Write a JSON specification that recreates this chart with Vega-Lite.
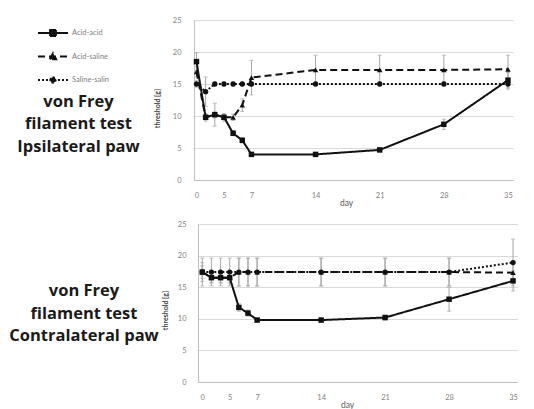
{
  "$schema": "https://vega.github.io/schema/vega-lite/v6.json",
  "background": "white",
  "padding": {"left": 0, "top": 16, "right": 0, "bottom": 0},
  "config": {"view": {"stroke": null}, "font": "Lato"},
  "spacing": 13,
  "datasets": {
    "curves": [
      {"panel": "top", "s": "Acid-acid", "t": 0, "v": 18.5, "e": 1.4},
      {"panel": "top", "s": "Acid-acid", "t": 1, "v": 9.8, "e": 0.4},
      {"panel": "top", "s": "Acid-acid", "t": 2, "v": 10.2, "e": 0.5},
      {"panel": "top", "s": "Acid-acid", "t": 3, "v": 9.8, "e": 0.4},
      {"panel": "top", "s": "Acid-acid", "t": 4, "v": 7.3, "e": 0.4},
      {"panel": "top", "s": "Acid-acid", "t": 5, "v": 6.2, "e": 0.4},
      {"panel": "top", "s": "Acid-acid", "t": 6, "v": 4.0, "e": 0.3},
      {"panel": "top", "s": "Acid-acid", "t": 13, "v": 4.0, "e": 0.3},
      {"panel": "top", "s": "Acid-acid", "t": 20, "v": 4.7, "e": 0.3},
      {"panel": "top", "s": "Acid-acid", "t": 27, "v": 8.7, "e": 0.8},
      {"panel": "top", "s": "Acid-acid", "t": 34, "v": 15.6, "e": 1.2},
      {"panel": "top", "s": "Acid-saline", "t": 0, "v": 16.9, "e": 0.8},
      {"panel": "top", "s": "Acid-saline", "t": 1, "v": 9.8, "e": 0.6},
      {"panel": "top", "s": "Acid-saline", "t": 2, "v": 10.2, "e": 1.8},
      {"panel": "top", "s": "Acid-saline", "t": 3, "v": 9.8, "e": 0.6},
      {"panel": "top", "s": "Acid-saline", "t": 4, "v": 9.8, "e": 0.5},
      {"panel": "top", "s": "Acid-saline", "t": 5, "v": 11.7, "e": 1.0},
      {"panel": "top", "s": "Acid-saline", "t": 6, "v": 16.0, "e": 2.7},
      {"panel": "top", "s": "Acid-saline", "t": 13, "v": 17.2, "e": 2.3},
      {"panel": "top", "s": "Acid-saline", "t": 20, "v": 17.2, "e": 2.3},
      {"panel": "top", "s": "Acid-saline", "t": 27, "v": 17.2, "e": 2.3},
      {"panel": "top", "s": "Acid-saline", "t": 34, "v": 17.3, "e": 2.2},
      {"panel": "top", "s": "Saline-salin", "t": 0, "v": 15.0, "e": 0.5},
      {"panel": "top", "s": "Saline-salin", "t": 1, "v": 13.8, "e": 2.3},
      {"panel": "top", "s": "Saline-salin", "t": 2, "v": 15.0, "e": 0.3},
      {"panel": "top", "s": "Saline-salin", "t": 3, "v": 15.0, "e": 0.3},
      {"panel": "top", "s": "Saline-salin", "t": 4, "v": 15.0, "e": 0.3},
      {"panel": "top", "s": "Saline-salin", "t": 5, "v": 15.0, "e": 0.3},
      {"panel": "top", "s": "Saline-salin", "t": 6, "v": 15.0, "e": 0.3},
      {"panel": "top", "s": "Saline-salin", "t": 13, "v": 15.0, "e": 0.3},
      {"panel": "top", "s": "Saline-salin", "t": 20, "v": 15.0, "e": 0.3},
      {"panel": "top", "s": "Saline-salin", "t": 27, "v": 15.0, "e": 0.3},
      {"panel": "top", "s": "Saline-salin", "t": 34, "v": 15.0, "e": 0.8},
      {"panel": "bot", "s": "Acid-acid", "t": 0, "v": 17.4, "e": 1.0},
      {"panel": "bot", "s": "Acid-acid", "t": 1, "v": 16.5, "e": 0.8},
      {"panel": "bot", "s": "Acid-acid", "t": 2, "v": 16.5, "e": 0.8},
      {"panel": "bot", "s": "Acid-acid", "t": 3, "v": 16.5, "e": 0.8},
      {"panel": "bot", "s": "Acid-acid", "t": 4, "v": 11.8, "e": 0.6},
      {"panel": "bot", "s": "Acid-acid", "t": 5, "v": 10.9, "e": 0.5},
      {"panel": "bot", "s": "Acid-acid", "t": 6, "v": 9.8, "e": 0.3},
      {"panel": "bot", "s": "Acid-acid", "t": 13, "v": 9.8, "e": 0.3},
      {"panel": "bot", "s": "Acid-acid", "t": 20, "v": 10.2, "e": 0.4},
      {"panel": "bot", "s": "Acid-acid", "t": 27, "v": 13.1, "e": 1.9},
      {"panel": "bot", "s": "Acid-acid", "t": 34, "v": 16.0, "e": 1.6},
      {"panel": "bot", "s": "Acid-saline", "t": 0, "v": 17.4, "e": 1.5},
      {"panel": "bot", "s": "Acid-saline", "t": 1, "v": 16.5, "e": 0.8},
      {"panel": "bot", "s": "Acid-saline", "t": 2, "v": 16.5, "e": 0.8},
      {"panel": "bot", "s": "Acid-saline", "t": 3, "v": 16.5, "e": 0.8},
      {"panel": "bot", "s": "Acid-saline", "t": 4, "v": 17.4, "e": 2.2},
      {"panel": "bot", "s": "Acid-saline", "t": 5, "v": 17.4, "e": 2.2},
      {"panel": "bot", "s": "Acid-saline", "t": 6, "v": 17.4, "e": 2.2},
      {"panel": "bot", "s": "Acid-saline", "t": 13, "v": 17.4, "e": 2.2},
      {"panel": "bot", "s": "Acid-saline", "t": 20, "v": 17.4, "e": 2.2},
      {"panel": "bot", "s": "Acid-saline", "t": 27, "v": 17.4, "e": 2.2},
      {"panel": "bot", "s": "Acid-saline", "t": 34, "v": 17.3, "e": 1.5},
      {"panel": "bot", "s": "Saline-salin", "t": 0, "v": 17.4, "e": 2.2},
      {"panel": "bot", "s": "Saline-salin", "t": 1, "v": 17.4, "e": 2.2},
      {"panel": "bot", "s": "Saline-salin", "t": 2, "v": 17.4, "e": 2.2},
      {"panel": "bot", "s": "Saline-salin", "t": 3, "v": 17.4, "e": 2.2},
      {"panel": "bot", "s": "Saline-salin", "t": 4, "v": 17.4, "e": 2.2},
      {"panel": "bot", "s": "Saline-salin", "t": 5, "v": 17.4, "e": 2.2},
      {"panel": "bot", "s": "Saline-salin", "t": 6, "v": 17.4, "e": 2.2},
      {"panel": "bot", "s": "Saline-salin", "t": 13, "v": 17.4, "e": 2.2},
      {"panel": "bot", "s": "Saline-salin", "t": 20, "v": 17.4, "e": 2.2},
      {"panel": "bot", "s": "Saline-salin", "t": 27, "v": 17.4, "e": 2.2},
      {"panel": "bot", "s": "Saline-salin", "t": 34, "v": 18.9, "e": 3.7}
    ],
    "titles": [
      {"panel": "top", "txt": "von Frey\nfilament test\nIpsilateral paw"},
      {"panel": "bot", "txt": "von Frey\nfilament test\nContralateral paw"}
    ]
  },
  "vconcat": [
    {
      "spacing": 0,
      "hconcat": [
        {
          "width": 153, "height": 160,
          "data": {"name": "titles"},
          "transform": [{"filter": "datum.panel == 'top'"}],
          "mark": {"type": "text", "lineBreak": "\n", "lineHeight": 22.5, "font": "Open Sans", "fontWeight": "bold", "fontSize": 16.5, "color": "#1a1a1a", "align": "center", "baseline": "middle", "dx": 2, "dy": 1.7},
          "encoding": {"text": {"field": "txt", "type": "nominal"}}
        },
        {
          "width": 319, "height": 160,
          "data": {"name": "curves"},
          "transform": [{"filter": "datum.panel == 'top'"}],
          "encoding": {
            "x": {"field": "t", "type": "quantitative", "scale": {"domain": [-0.27, 34.55], "nice": false, "zero": false},
              "axis": {"values": [0, 3, 6, 13, 20, 27, 34], "labelExpr": "datum.value == 0 ? '0' : datum.value == 3 ? '5' : datum.value == 6 ? '7' : '' + (datum.value + 1)", "title": "day", "grid": false, "ticks": false, "domainColor": "#bfbfbf", "labelFontSize": 7.5, "labelColor": "#7f7f7f", "labelPadding": 11, "labelFlush": false, "labelOverlap": false, "titleFontSize": 8.5, "titleFontWeight": "normal", "titleColor": "#595959", "titlePadding": 0, "titleX": 152}},
            "y": {"field": "v", "type": "quantitative", "scale": {"domain": [0, 25], "nice": false},
              "axis": {"values": [0, 5, 10, 15, 20, 25], "title": "threshold [g]", "grid": true, "gridColor": "#d9d9d9", "ticks": false, "domainColor": "#bfbfbf", "labelFontSize": 7.5, "labelColor": "#7f7f7f", "labelPadding": 13, "titleFontSize": 7, "titleFontWeight": "bold", "titleColor": "#404040", "titlePadding": 12, "titleY": 88}}
          },
          "layer": [
            {"mark": {"type": "errorbar", "ticks": {"color": "#a6a6a6", "size": 4}, "rule": {"color": "#a6a6a6", "strokeWidth": 1}}, "encoding": {"yError": {"field": "e"}}},
            {"mark": {"type": "line", "color": "#111", "strokeWidth": 2},
              "encoding": {"strokeDash": {"field": "s", "type": "nominal",
                "scale": {"domain": ["Acid-acid", "Acid-saline", "Saline-salin"], "range": [[1, 0], [7, 4], [2, 2]]},
                "legend": {"title": null, "orient": "none", "legendX": 47, "legendY": 7, "padding": 0, "symbolSize": 100, "symbolStrokeWidth": 1.8, "symbolStrokeColor": "#111", "symbolFillColor": "#111", "labelFont": "Lato", "labelFontSize": 7.5, "labelColor": "#7f7f7f", "labelOffset": 13, "rowPadding": 9.5,
                  "encode": {"symbols": {"update": {"fill": {"value": "#111"}, "stroke": {"value": "#111"}, "strokeWidth": {"value": 1.8}, "opacity": {"value": 1}, "shape": {"signal": "datum.value === 'Acid-acid' ? 'M-3,0H3M-0.6,-0.6H0.6V0.6H-0.6Z' : datum.value === 'Acid-saline' ? 'M-3,0H3M-0.66,0.55L0,-0.66L0.66,0.55Z' : 'M-3,0H3M-0.55,0A0.55,0.55,0,1,1,0.55,0A0.55,0.55,0,1,1,-0.55,0Z'"}}}}}}}},
            {"transform": [{"filter": "datum.s == 'Acid-acid'"}], "mark": {"type": "point", "filled": true, "color": "#111", "opacity": 1, "size": 30, "shape": "square"}},
            {"transform": [{"filter": "datum.s == 'Acid-saline'"}], "mark": {"type": "point", "filled": true, "color": "#111", "opacity": 1, "size": 30, "shape": "triangle-up"}},
            {"transform": [{"filter": "datum.s == 'Saline-salin'"}], "mark": {"type": "point", "filled": true, "color": "#111", "opacity": 1, "size": 28, "shape": "circle"}}
          ]
        }
      ]
    },
    {
      "spacing": 0,
      "hconcat": [
        {
          "width": 161, "height": 158,
          "data": {"name": "titles"},
          "transform": [{"filter": "datum.panel == 'bot'"}],
          "mark": {"type": "text", "lineBreak": "\n", "lineHeight": 22.5, "font": "Open Sans", "fontWeight": "bold", "fontSize": 16.5, "color": "#1a1a1a", "align": "center", "baseline": "middle", "dx": 3.5, "dy": -12},
          "encoding": {"text": {"field": "txt", "type": "nominal"}}
        },
        {
          "width": 320, "height": 158,
          "data": {"name": "curves"},
          "transform": [{"filter": "datum.panel == 'bot'"}],
          "encoding": {
            "x": {"field": "t", "type": "quantitative", "scale": {"domain": [-0.47, 34.54], "nice": false, "zero": false},
              "axis": {"values": [0, 3, 6, 13, 20, 27, 34], "labelExpr": "datum.value == 0 ? '0' : datum.value == 3 ? '5' : datum.value == 6 ? '7' : '' + (datum.value + 1)", "title": "day", "grid": false, "ticks": false, "domainColor": "#bfbfbf", "labelFontSize": 7.5, "labelColor": "#7f7f7f", "labelPadding": 11, "labelFlush": false, "labelOverlap": false, "titleFontSize": 8.5, "titleFontWeight": "normal", "titleColor": "#595959", "titlePadding": 0, "titleX": 149}},
            "y": {"field": "v", "type": "quantitative", "scale": {"domain": [0, 25], "nice": false},
              "axis": {"values": [0, 5, 10, 15, 20, 25], "title": "threshold [g]", "grid": true, "gridColor": "#d9d9d9", "ticks": false, "domainColor": "#bfbfbf", "labelFontSize": 7.5, "labelColor": "#7f7f7f", "labelPadding": 12, "titleFontSize": 7, "titleFontWeight": "bold", "titleColor": "#404040", "titlePadding": 9, "titleY": 86}}
          },
          "layer": [
            {"mark": {"type": "errorbar", "ticks": {"color": "#a6a6a6", "size": 4}, "rule": {"color": "#a6a6a6", "strokeWidth": 1}}, "encoding": {"yError": {"field": "e"}}},
            {"mark": {"type": "line", "color": "#111", "strokeWidth": 2},
              "encoding": {"strokeDash": {"field": "s", "type": "nominal",
                "scale": {"domain": ["Acid-acid", "Acid-saline", "Saline-salin"], "range": [[1, 0], [7, 4], [2, 2]]},
                "legend": {"title": null, "orient": "none", "legendX": 47, "legendY": 7, "padding": 0, "symbolSize": 100, "symbolStrokeWidth": 1.8, "symbolStrokeColor": "#111", "symbolFillColor": "#111", "labelFont": "Lato", "labelFontSize": 7.5, "labelColor": "#7f7f7f", "labelOffset": 13, "rowPadding": 9.5,
                  "encode": {"symbols": {"update": {"fill": {"value": "#111"}, "stroke": {"value": "#111"}, "strokeWidth": {"value": 1.8}, "opacity": {"value": 1}, "shape": {"signal": "datum.value === 'Acid-acid' ? 'M-3,0H3M-0.6,-0.6H0.6V0.6H-0.6Z' : datum.value === 'Acid-saline' ? 'M-3,0H3M-0.66,0.55L0,-0.66L0.66,0.55Z' : 'M-3,0H3M-0.55,0A0.55,0.55,0,1,1,0.55,0A0.55,0.55,0,1,1,-0.55,0Z'"}}}}}}}},
            {"transform": [{"filter": "datum.s == 'Acid-acid'"}], "mark": {"type": "point", "filled": true, "color": "#111", "opacity": 1, "size": 30, "shape": "square"}},
            {"transform": [{"filter": "datum.s == 'Acid-saline'"}], "mark": {"type": "point", "filled": true, "color": "#111", "opacity": 1, "size": 30, "shape": "triangle-up"}},
            {"transform": [{"filter": "datum.s == 'Saline-salin'"}], "mark": {"type": "point", "filled": true, "color": "#111", "opacity": 1, "size": 28, "shape": "circle"}}
          ]
        }
      ]
    }
  ]
}
